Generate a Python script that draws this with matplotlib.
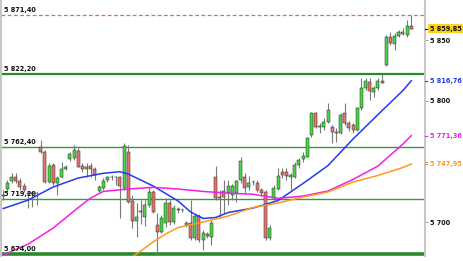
import matplotlib
matplotlib.use("Agg")
import matplotlib.pyplot as plt
import numpy as np

# ---- candle data (OHLC) ----
opens = [5722.4, 5727.1, 5734.2, 5737.2, 5734.2, 5729.8, 5723.2, 5724.0, 5723.8, 5762.3,
         5758.1, 5733.4, 5747.1, 5732.3, 5737.2, 5743.6, 5751.9, 5752.7, 5758.9, 5746.3,
         5743.6, 5746.3, 5743.6, 5725.9, 5727.9, 5734.8, 5737.0, 5737.2, 5737.5, 5727.9,
         5758.1, 5717.7, 5701.2, 5708.3, 5704.2, 5714.1, 5725.1, 5697.6, 5692.1, 5699.5,
         5715.8, 5700.1, 5710.0, 5710.0, 5697.6, 5699.2, 5686.9, 5705.0, 5685.2, 5690.2,
         5687.9, 5737.5, 5720.7, 5725.7, 5723.8, 5722.4, 5723.8, 5734.8, 5737.5, 5728.7,
         5733.1, 5732.5, 5726.5, 5725.1, 5686.6, 5719.6, 5727.1, 5741.6, 5741.6, 5737.0,
         5737.5, 5747.1, 5751.9, 5754.0, 5771.9, 5789.8, 5778.5, 5778.8, 5782.9, 5778.8,
         5774.6, 5773.3, 5789.8, 5781.6, 5780.2, 5776.0, 5794.0, 5810.5, 5815.9, 5807.7,
         5810.5, 5816.8, 5829.7, 5853.1, 5847.1, 5853.7, 5857.2, 5854.5, 5861.9]
highs = [5726.5, 5734.8, 5740.5, 5740.8, 5736.4, 5732.3, 5725.7, 5725.1, 5725.1, 5767.8,
         5759.5, 5748.8, 5748.8, 5738.1, 5749.9, 5747.1, 5758.1, 5763.7, 5761.2, 5748.6,
         5748.6, 5748.8, 5745.7, 5730.6, 5736.4, 5738.1, 5738.9, 5738.1, 5738.1, 5765.6,
         5763.7, 5722.4, 5715.8, 5718.2, 5718.2, 5729.0, 5726.5, 5707.5, 5705.9, 5719.9,
         5718.2, 5714.1, 5712.5, 5711.6, 5700.9, 5718.2, 5706.7, 5706.7, 5693.5, 5691.8,
         5701.7, 5746.3, 5726.5, 5734.8, 5734.8, 5731.4, 5734.8, 5754.0, 5740.5, 5738.1,
         5734.8, 5734.8, 5728.1, 5726.5, 5697.6, 5730.6, 5744.4, 5744.7, 5744.7, 5740.5,
         5749.9, 5752.9, 5758.1, 5770.5, 5791.2, 5791.2, 5781.6, 5785.7, 5798.1, 5780.2,
         5777.4, 5789.8, 5798.1, 5783.5, 5781.8, 5795.3, 5819.0, 5819.0, 5819.0, 5812.4,
         5818.7, 5822.2, 5854.5, 5857.2, 5855.9, 5858.6, 5860.0, 5866.9, 5871.4]
lows = [5718.2, 5725.1, 5732.3, 5732.3, 5726.5, 5724.8, 5711.6, 5712.5, 5714.1, 5757.0,
        5732.3, 5732.0, 5730.6, 5722.4, 5736.4, 5743.0, 5750.7, 5751.3, 5745.5, 5741.6,
        5737.5, 5737.2, 5734.8, 5724.8, 5726.5, 5733.1, 5734.8, 5730.6, 5703.4, 5726.5,
        5715.5, 5695.1, 5687.9, 5698.4, 5696.8, 5712.5, 5707.5, 5674.0, 5691.0, 5695.9,
        5697.6, 5698.4, 5707.5, 5708.3, 5695.9, 5685.2, 5685.2, 5683.6, 5676.9, 5686.9,
        5681.1, 5718.2, 5703.4, 5707.5, 5714.1, 5718.2, 5716.6, 5732.3, 5724.0, 5726.5,
        5730.6, 5724.8, 5721.5, 5685.2, 5685.2, 5718.2, 5726.5, 5736.4, 5734.8, 5726.5,
        5736.4, 5744.7, 5749.9, 5753.5, 5770.5, 5777.4, 5773.3, 5776.0, 5782.1, 5765.1,
        5766.4, 5772.7, 5780.2, 5775.2, 5773.6, 5775.2, 5792.6, 5809.1, 5800.8, 5803.5,
        5809.1, 5814.6, 5828.9, 5846.2, 5842.1, 5853.1, 5854.5, 5853.1, 5859.2]
closes = [5721.5, 5732.5, 5737.0, 5733.9, 5729.2, 5726.5, 5723.8, 5723.2, 5724.0, 5758.1,
          5733.4, 5746.3, 5732.0, 5736.4, 5743.8, 5745.7, 5756.2, 5759.5, 5745.7, 5743.8,
          5745.7, 5743.8, 5738.9, 5729.0, 5734.2, 5737.0, 5737.2, 5737.0, 5729.8, 5762.8,
          5716.8, 5701.2, 5704.5, 5709.2, 5714.1, 5725.1, 5708.6, 5692.1, 5703.4, 5716.0,
          5700.1, 5711.6, 5710.4, 5709.6, 5699.2, 5686.9, 5705.0, 5685.2, 5691.2, 5688.5,
          5699.5, 5719.6, 5720.3, 5720.7, 5729.8, 5729.8, 5734.2, 5750.7, 5727.9, 5732.5,
          5732.7, 5726.5, 5723.8, 5686.6, 5695.1, 5727.9, 5738.1, 5738.9, 5738.1, 5738.9,
          5747.1, 5751.3, 5754.6, 5769.2, 5789.8, 5778.8, 5778.9, 5782.9, 5792.6, 5774.6,
          5773.3, 5788.4, 5781.8, 5777.4, 5776.0, 5794.2, 5810.5, 5816.8, 5808.5, 5810.5,
          5816.8, 5815.1, 5853.1, 5847.6, 5853.7, 5857.2, 5855.3, 5861.9, 5859.85]

# ---- moving averages (read at sample candle indices) ----
ma_blue_idx = [0, 6, 12, 18, 24, 28, 30, 36, 42, 45, 48, 51, 54, 60, 66, 72, 78, 84, 90, 96, 98]
ma_blue = [5711.2, 5718.2, 5729.0, 5736.4, 5740.3, 5741.6, 5739.7, 5729.8, 5717.4, 5708.3,
           5703.0, 5703.8, 5707.9, 5711.6, 5717.8, 5731.9, 5746.7, 5768.6, 5788.8, 5808.7, 5816.76]
ma_mag_idx = [0, 6, 12, 18, 21, 24, 30, 36, 42, 48, 54, 60, 66, 72, 78, 84, 90, 96, 98]
ma_mag = [5672.8, 5681.9, 5695.1, 5712.0, 5719.9, 5725.3, 5727.3, 5728.7, 5727.3, 5725.3,
          5723.9, 5723.0, 5719.6, 5721.5, 5725.7, 5735.2, 5746.3, 5764.5, 5771.36]
ma_org_idx = [30, 33, 36, 39, 42, 48, 54, 60, 66, 72, 78, 84, 90, 96, 98]
ma_org = [5669.1, 5676.1, 5683.6, 5690.2, 5695.5, 5700.1, 5705.0, 5712.1, 5715.8, 5720.7,
          5724.9, 5733.1, 5738.5, 5745.1, 5747.95]

# ---- levels ----
level_green = [5822.20, 5762.40, 5719.20, 5674.00]
level_green_lbl = ["5 822,20", "5 762,40", "5 719,20", "5 674,00"]
level_red = 5871.40
level_red_lbl = "5 871,40"

yticks = [5700, 5750, 5800, 5850]
ytick_lbls = ["5 700", "", "5 800", "5 850"]   # 5 750 is hidden behind the orange value box

last_close_lbl = "5 859,85"
blue_lbl = "5 816,76"
mag_lbl = "5 771,36"
org_lbl = "5 747,95"

W, H = 464, 261
fig = plt.figure(figsize=(W / 100, H / 100), dpi=100)
ax = fig.add_axes([1 / W, 5 / H, 424 / W, 256 / H])
ax.set_facecolor("white")

n = len(closes)
x = np.arange(n)
ax.set_xlim(-0.55, n - 1 + 3.29)
ax.set_ylim(5672.0, 5883.4)

GREEN_LINE = "#3a963a"
# horizontal level lines
ax.axhline(level_red, color="#f06060", lw=0.9, ls=(0, (3, 2)), zorder=1)
lw_levels = [1.6, 1.0, 1.0, 2.6]
for lv, lw in zip(level_green, lw_levels):
    ax.axhline(lv, color=GREEN_LINE if lw < 1.5 else "#2a8a2a", lw=lw, zorder=1)

# candles
for i in range(n):
    o, h, l, c = opens[i], highs[i], lows[i], closes[i]
    ax.vlines(x[i], l, h, color="#7a7a7a", lw=0.8, zorder=3)
    up = c >= o
    bottom = min(o, c)
    height = max(abs(c - o), 0.5)
    ax.bar(x[i], height, bottom=bottom, width=0.72,
           color="#45d845" if up else "#e8736c",
           edgecolor="#2a2a2a", linewidth=0.35, zorder=4)

# moving averages
ax.plot(ma_blue_idx, ma_blue, color="#1f3cf5", lw=1.1, zorder=5)
ax.plot(ma_mag_idx, ma_mag, color="#f21ee8", lw=1.1, zorder=5)
ax.plot(ma_org_idx, ma_org, color="#ff9a1a", lw=1.1, zorder=5)

# spines / ticks
for s in ["top", "bottom"]:
    ax.spines[s].set_visible(False)
ax.spines["left"].set_color("#c8c8c8")
ax.spines["left"].set_linewidth(1.5)
ax.spines["right"].set_color("#c8c8c8")
ax.spines["right"].set_linewidth(1.5)
ax.set_xticks([])
ax.yaxis.tick_right()
ax.set_yticks(yticks)
ax.set_yticklabels(ytick_lbls)
ax.tick_params(axis="y", length=2.5, width=0.6, color="#888888", pad=1,
               labelsize=4.7, labelcolor="#111111")
for t in ax.get_yticklabels():
    t.set_fontweight("bold")

# left level labels
tr = ax.get_yaxis_transform()
for lv, lb in zip([level_red] + level_green, [level_red_lbl] + level_green_lbl):
    ax.text(0.006, lv + 1.6, lb, transform=tr, fontsize=4.7, fontweight="bold",
            color="#111111", ha="left", va="bottom", zorder=6)

# right value boxes
def box(val, txt, fg, bg):
    ax.plot([1.0, 1.008], [val, val], transform=tr, color=fg, lw=0.8, clip_on=False, zorder=7)
    ax.text(1.012, val, txt, transform=tr, fontsize=4.7, fontweight="bold", color=fg,
            ha="left", va="center", clip_on=False, zorder=8,
            bbox=dict(boxstyle="square,pad=0.25", fc=bg, ec="none"))

box(closes[-1], last_close_lbl, "#111111", "#ffd21a")
box(ma_blue[-1], blue_lbl, "#1f3cf5", "white")
box(ma_mag[-1], mag_lbl, "#f21ee8", "white")
box(ma_org[-1], org_lbl, "#ff9a1a", "white")

fig.savefig("out.png", dpi=100)
